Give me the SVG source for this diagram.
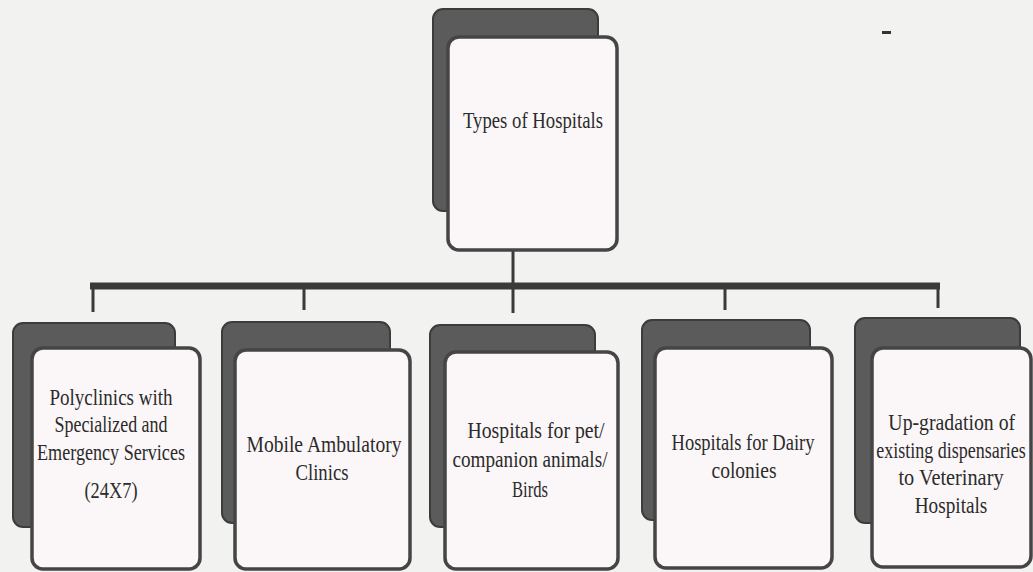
<svg xmlns="http://www.w3.org/2000/svg" width="1033" height="572" viewBox="0 0 1033 572">
<style>
.back{fill:#5b5b5b;stroke:#3c3c3c;stroke-width:2}
.front{fill:#fbf7f8;stroke:#454545;stroke-width:3.5}
.t{font-family:"Liberation Serif","Times New Roman",serif;font-size:24px;fill:#2b2b2b;text-anchor:middle}
.c{stroke:#3a3a3a;fill:none}
</style>
<rect width="1033" height="572" fill="#f2f2f0"/>
<g id="connectors">
<line class="c" x1="513" y1="250" x2="513" y2="286" stroke-width="3"/>
<line class="c" x1="90" y1="286" x2="940" y2="286" stroke-width="7"/>
<line class="c" x1="93" y1="286" x2="93" y2="312" stroke-width="3"/>
<line class="c" x1="304" y1="286" x2="304" y2="310" stroke-width="3"/>
<line class="c" x1="513" y1="286" x2="513" y2="313" stroke-width="3"/>
<line class="c" x1="725" y1="286" x2="725" y2="310" stroke-width="3"/>
<line class="c" x1="938" y1="286" x2="938" y2="308" stroke-width="3"/>
</g>
<g id="root">
<rect class="back" x="433" y="9" width="165" height="202" rx="10"/>
<rect class="front" x="448" y="37" width="169" height="213" rx="11"/>
<text class="t" x="533" y="128" textLength="140" lengthAdjust="spacingAndGlyphs">Types of Hospitals</text>
</g>
<g id="n1">
<rect class="back" x="13" y="323" width="162" height="204" rx="10"/>
<rect class="front" x="32" y="348" width="168" height="221" rx="11"/>
<text class="t" x="111" y="405" textLength="123" lengthAdjust="spacingAndGlyphs">Polyclinics with</text>
<text class="t" x="111" y="432" textLength="113" lengthAdjust="spacingAndGlyphs">Specialized and</text>
<text class="t" x="111" y="460" textLength="148" lengthAdjust="spacingAndGlyphs">Emergency Services</text>
<text class="t" x="111" y="498" textLength="53" lengthAdjust="spacingAndGlyphs">(24X7)</text>
</g>
<g id="n2">
<rect class="back" x="222" y="322" width="168" height="201" rx="10"/>
<rect class="front" x="235" y="350" width="175" height="219" rx="11"/>
<text class="t" x="324" y="452" textLength="155" lengthAdjust="spacingAndGlyphs">Mobile  Ambulatory</text>
<text class="t" x="322" y="480" textLength="53" lengthAdjust="spacingAndGlyphs">Clinics</text>
</g>
<g id="n3">
<rect class="back" x="430" y="325" width="165" height="202" rx="10"/>
<rect class="front" x="445" y="352" width="173" height="217" rx="11"/>
<text class="t" x="536" y="438" textLength="137" lengthAdjust="spacingAndGlyphs">Hospitals for pet/</text>
<text class="t" x="530" y="467" textLength="155" lengthAdjust="spacingAndGlyphs">companion animals/</text>
<text class="t" x="530" y="497" textLength="36" lengthAdjust="spacingAndGlyphs">Birds</text>
</g>
<g id="n4">
<rect class="back" x="642" y="320" width="168" height="200" rx="10"/>
<rect class="front" x="655" y="348" width="177" height="220" rx="11"/>
<text class="t" x="743" y="450" textLength="143" lengthAdjust="spacingAndGlyphs">Hospitals for Dairy</text>
<text class="t" x="744" y="478" textLength="65" lengthAdjust="spacingAndGlyphs">colonies</text>
</g>
<g id="n5">
<rect class="back" x="855" y="318" width="165" height="205" rx="10"/>
<rect class="front" x="872" y="348" width="159" height="219" rx="11"/>
<g transform="translate(951,0) scale(0.72,1)">
<text class="t" x="1" y="430" textLength="176" lengthAdjust="spacingAndGlyphs">Up-gradation of</text>
<text class="t" x="0" y="458" textLength="208" lengthAdjust="spacingAndGlyphs">existing dispensaries</text>
<text class="t" x="0" y="485" textLength="146" lengthAdjust="spacingAndGlyphs">to Veterinary</text>
<text class="t" x="0" y="513" textLength="101" lengthAdjust="spacingAndGlyphs">Hospitals</text>
</g>
</g>
<rect x="882" y="31" width="9" height="3" fill="#333"/>
</svg>
